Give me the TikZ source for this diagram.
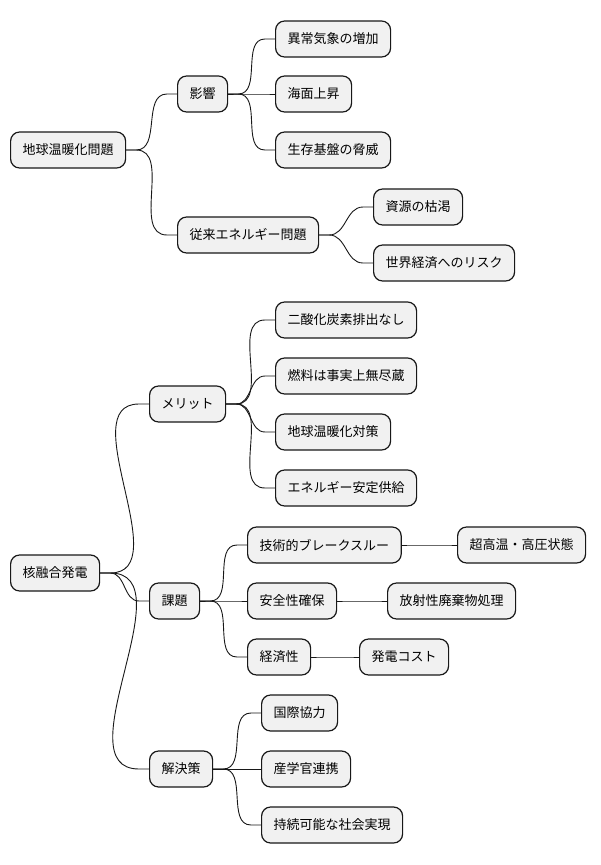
\documentclass[tikz,border=0pt]{standalone}
\usepackage{fontspec}
\setmainfont{Noto Sans CJK JP}
\usetikzlibrary{positioning}
\definecolor{paper}{RGB}{241,241,241}
\definecolor{ink}{RGB}{24,24,24}
\tikzset{
  idea/.style={draw=ink,fill=paper,line width=1.2pt,rounded corners=9pt,
    minimum height=36pt,inner xsep=12pt,anchor=west,
    font=\fontsize{13}{15}\selectfont},
  link/.style={draw=ink,line width=0.9pt},
}
% parent -> child connector
\newcommand{\branch}[2]{\draw[link] (#1.east) -- ++(10pt,0) to[out=0,in=180] ([xshift=-10pt]#2.west) -- (#2.west);}

\begin{document}
\begin{tikzpicture}[x=1pt,y=-1pt]
  \fill[white] (0,0) rectangle (600,865);
  \useasboundingbox (0,0) rectangle (600,865);

  % global warming
  \node[idea] (warm) at (10,150) {地球温暖化問題};
  \node[idea] (impact) at (177,94) {影響};
  \node[idea] (legacy) at (177,235) {従来エネルギー問題};
  \branch{warm}{impact}
  \branch{warm}{legacy}
  \foreach \y/\t [count=\i] in {39/異常気象の増加,94/海面上昇,150/生存基盤の脅威}{
    \node[idea] (imp\i) at (275,\y) {\t};
    \branch{impact}{imp\i}
  }
  \foreach \y/\t [count=\i] in {207/資源の枯渇,263/世界経済へのリスク}{
    \node[idea] (leg\i) at (373,\y) {\t};
    \branch{legacy}{leg\i}
  }

  % fusion power
  \node[idea] (fusion) at (10,573) {核融合発電};
  \node[idea] (merit) at (149,404) {メリット};
  \node[idea] (task) at (149,601) {課題};
  \node[idea] (fix) at (149,769) {解決策};
  \branch{fusion}{merit}
  \branch{fusion}{task}
  \branch{fusion}{fix}
  \foreach \y/\t [count=\i] in {320/二酸化炭素排出なし,376/燃料は事実上無尽蔵,
                                432/地球温暖化対策,488/エネルギー安定供給}{
    \node[idea] (mer\i) at (275,\y) {\t};
    \branch{merit}{mer\i}
  }
  \foreach \y/\t/\x/\s [count=\i] in {545/技術的ブレークスルー/457/超高温・高圧状態,
                                      601/安全性確保/387/放射性廃棄物処理,
                                      657/経済性/359/発電コスト}{
    \node[idea] (task\i) at (247,\y) {\t};
    \node[idea] (deep\i) at (\x,\y) {\s};
    \branch{task}{task\i}
    \branch{task\i}{deep\i}
  }
  \foreach \y/\t [count=\i] in {713/国際協力,769/産学官連携,825/持続可能な社会実現}{
    \node[idea] (fix\i) at (261,\y) {\t};
    \branch{fix}{fix\i}
  }
\end{tikzpicture}
\end{document}
